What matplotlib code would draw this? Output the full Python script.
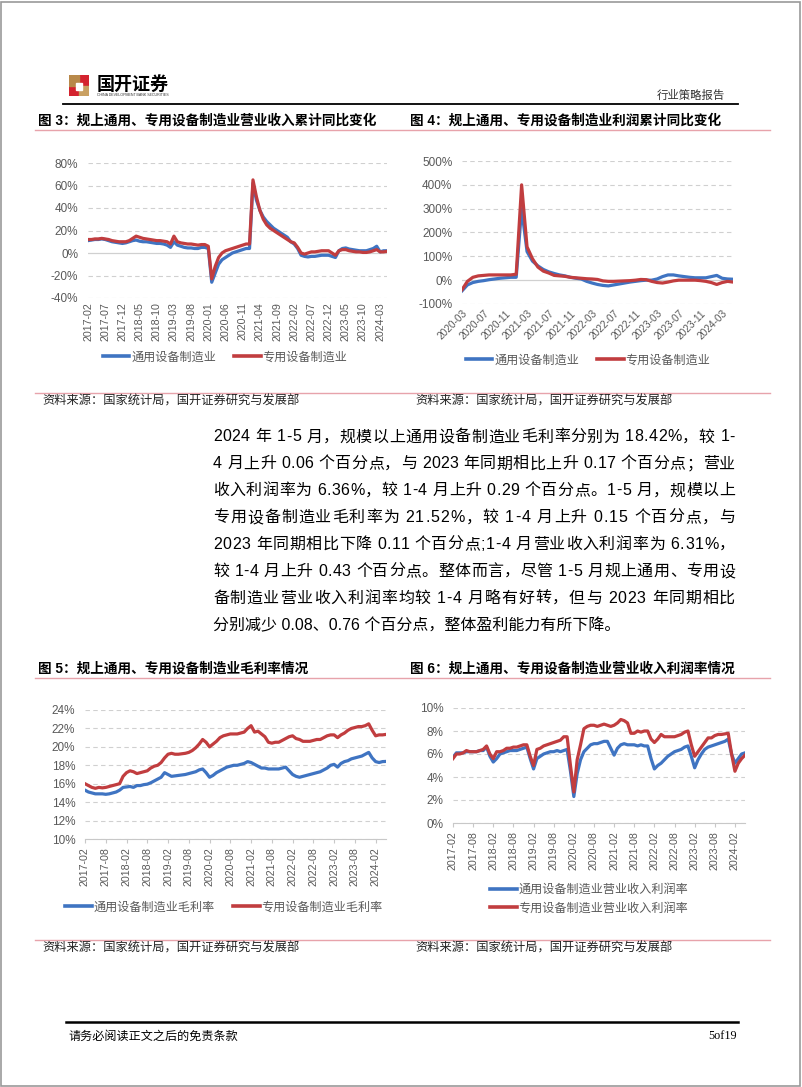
import numpy as np
import pandas as pd
import matplotlib
matplotlib.use("Agg")
import matplotlib.pyplot as plt
from matplotlib.lines import Line2D
from matplotlib.patches import Rectangle
from matplotlib.font_manager import FontProperties

########## DATA ##########
# fig 3: cumulative yoy of operating revenue (%), 2017-02 .. 2024-05
months_a = pd.period_range("2017-02", "2024-05", freq="M").strftime("%Y-%m").tolist()
rev_general = [11, 11.5, 12, 12, 12.5, 12, 11, 10, 9.5, 9, 8.5,
               9, 10, 11, 11.5, 10.5, 10, 10, 9.5, 9, 8.5, 8.5, 8,
               7, 5, 10, 7, 6, 5, 4.5, 4.5, 4, 4, 5, 5,
               4, -26, -18, -10, -6, -4, -2, 0, 1, 2, 3, 4,
               4, 62, 47, 38, 32, 28, 25, 22, 20, 18, 16, 14,
               10, 8, 4, -2, -3, -3.5, -3, -3, -2.5, -2, -2, -2,
               -3, -4, 2, 4, 4.5, 3.5, 3, 2.5, 2, 2, 2, 3,
               4, 6, 1, 2, 2]
rev_special = [12, 12, 12.5, 12.5, 13, 12.5, 12, 11, 10.5, 10, 10,
               10, 11, 13, 15, 14, 13, 12.5, 12, 11.5, 11, 11, 10.5,
               10, 8, 15, 10, 9, 8.5, 8, 8, 7.5, 7, 7.5, 7.5,
               6, -23, -12, -4, 0, 2, 3, 4, 5, 6, 7, 8,
               8, 65, 50, 38, 30, 25, 22, 20, 18, 16, 14, 12,
               10, 9, 5, 0, -1, 0, 1, 1, 1.5, 2, 2, 2,
               0, -2, 2, 3, 3, 2, 1.5, 1, 1, 0.5, 0.5, 1,
               2, 3, 1, 1, 1.5]

# fig 4: cumulative yoy of total profit (%), 2020-03 .. 2024-05
months_b = pd.period_range("2020-03", "2024-05", freq="M").strftime("%Y-%m").tolist()
prof_general = [-45, -20, -10, -5, -2, 2, 5, 8, 10, 12,
                12, 300, 120, 80, 60, 45, 35, 28, 22, 18, 12, 8,
                5, -5, -12, -18, -22, -24, -20, -16, -12, -8, -5, -2,
                0, 0, 5, 15, 22, 22, 18, 15, 12, 10, 10, 10,
                15, 20, 8, 5, 4]
prof_special = [-40, -5, 12, 18, 20, 22, 22, 22, 22, 22,
                25, 400, 140, 90, 55, 38, 30, 20, 18, 16, 12, 10,
                8, 6, 5, 3, -3, -5, -5, -4, -3, -2, 0, 3,
                2, -5, -10, -12, -8, -3, 0, 0, 0, 0, -2, -5,
                -10, -18, -10, -5, -8]

# fig 5: gross margin (%), 2017-02 .. 2024-05
gm_general = [15.3, 15.1, 15.0, 14.9, 14.9, 14.9, 14.85, 14.9, 15.0, 15.1, 15.3,
              15.6, 15.65, 15.7, 15.6, 15.8, 15.8, 15.9, 15.95, 16.1, 16.3, 16.5, 16.7,
              17.2, 17.0, 16.8, 16.85, 16.9, 16.95, 17.0, 17.1, 17.2, 17.3, 17.5, 17.6,
              17.2, 16.7, 16.9, 17.2, 17.4, 17.6, 17.8, 17.9, 18.0, 18.0, 18.1, 18.2,
              18.4, 18.3, 18.1, 17.9, 17.7, 17.7, 17.6, 17.6, 17.6, 17.6, 17.7, 17.8,
              17.4, 17.0, 16.8, 16.7, 16.8, 16.9, 17.0, 17.1, 17.2, 17.3, 17.5, 17.7,
              18.0, 18.1, 17.8, 18.2, 18.4, 18.5, 18.7, 18.8, 18.9, 19.0, 19.2, 19.4,
              18.8, 18.4, 18.3, 18.4, 18.42]
gm_special = [16.0, 15.8, 15.6, 15.5, 15.6, 15.55, 15.6, 15.7, 15.8, 15.9, 16.0,
              16.8, 17.2, 17.4, 17.3, 17.1, 17.2, 17.3, 17.4, 17.7, 17.9, 18.0, 18.3,
              18.8, 19.2, 19.3, 19.2, 19.2, 19.25, 19.3, 19.4, 19.6, 19.9, 20.3, 20.8,
              20.5, 20.0, 20.3, 20.6, 21.0, 21.2, 21.3, 21.4, 21.4, 21.4, 21.5, 21.6,
              22.0, 22.3, 21.6, 21.7, 21.4, 21.1, 20.5, 20.4, 20.5, 20.5, 20.7, 20.9,
              21.1, 21.2, 20.9, 20.8, 20.6, 20.6, 20.6, 20.7, 20.8, 20.8, 21.0, 21.2,
              21.3, 21.3, 21.0, 21.3, 21.5, 21.8, 22.0, 22.1, 22.2, 22.2, 22.3, 22.5,
              21.8, 21.2, 21.3, 21.3, 21.35]

# fig 6: operating profit margin (%), 2017-02 .. 2024-05
pm_general = [5.7, 6.1, 6.1, 6.1, 6.2, 6.2, 6.2, 6.2, 6.3, 6.3, 6.6,
              5.8, 5.3, 5.6, 6.0, 6.1, 6.2, 6.3, 6.3, 6.3, 6.4, 6.5, 6.6,
              5.6, 4.7, 5.6, 5.8, 6.0, 6.1, 6.2, 6.2, 6.3, 6.2, 6.3, 6.4,
              4.5, 2.3, 4.3, 5.5, 6.2, 6.5, 6.8, 6.9, 6.9, 7.0, 7.1, 7.1,
              6.5, 5.9, 6.5, 6.8, 6.9, 6.8, 6.8, 6.8, 6.7, 6.8, 6.7, 6.7,
              5.6, 4.7, 5.0, 5.2, 5.5, 5.8, 6.0, 6.2, 6.3, 6.4, 6.6, 6.7,
              5.8, 4.8, 5.5, 6.0, 6.4, 6.6, 6.7, 6.8, 6.9, 7.0, 7.1, 7.3,
              6.0, 5.2, 5.6, 6.0, 6.1]
pm_special = [5.6, 6.0, 6.0, 6.1, 6.3, 6.2, 6.2, 6.2, 6.3, 6.4, 6.7,
              6.0, 5.6, 6.2, 6.2, 6.3, 6.5, 6.5, 6.6, 6.6, 6.7, 6.8, 6.8,
              5.8, 5.0, 6.4, 6.5, 6.7, 6.8, 6.9, 7.0, 7.1, 7.2, 7.5, 7.5,
              5.0, 2.7, 5.5, 6.8, 8.2, 8.4, 8.5, 8.5, 8.4, 8.5, 8.6, 8.5,
              8.4, 8.5, 8.7, 9.0, 8.9, 8.7, 7.8, 7.8, 8.0, 7.9, 8.0, 8.0,
              7.3, 7.0, 7.3, 7.7, 7.5, 7.5, 7.5, 7.5, 7.6, 7.7, 7.9, 8.0,
              6.8, 5.8, 6.2, 6.6, 7.0, 7.4, 7.4, 7.6, 7.7, 7.7, 7.75, 7.8,
              6.0, 4.5, 5.2, 5.6, 5.9]

body_lines = [
    "2024 年 1-5 月，规模以上通用设备制造业毛利率分别为 18.42%，较 1-",
    "4 月上升 0.06 个百分点，与 2023 年同期相比上升 0.17 个百分点；营业",
    "收入利润率为 6.36%，较 1-4 月上升 0.29 个百分点。1-5 月，规模以上",
    "专用设备制造业毛利率为 21.52%，较 1-4 月上升 0.15 个百分点，与",
    "2023 年同期相比下降 0.11 个百分点;1-4 月营业收入利润率为 6.31%，",
    "较 1-4 月上升 0.43 个百分点。整体而言，尽管 1-5 月规上通用、专用设",
    "备制造业营业收入利润率均较 1-4 月略有好转，但与 2023 年同期相比",
    "分别减少 0.08、0.76 个百分点，整体盈利能力有所下降。",
]
source = "资料来源：国家统计局，国开证券研究与发展部"
########################################

W, H = 802, 1087
CJK = ["Liberation Sans", "Noto Sans CJK SC"]
plt.rcParams["font.family"] = CJK
BLUE, RED = "#3f74c2", "#c13d3f"
GRAY = "#595959"
PINK = "#e7a3ab"

fig = plt.figure(figsize=(W / 100, H / 100), dpi=100)


def px_axes(x0, y0, x1, y1):
    return fig.add_axes([x0 / W, 1 - y1 / H, (x1 - x0) / W, (y1 - y0) / H])


def ftext(x, y, s, **kw):
    return fig.text(x / W, 1 - y / H, s, **kw)


def hline(x0, x1, y, color, lw):
    fig.add_artist(Line2D([x0 / W, x1 / W], [1 - y / H] * 2, color=color, lw=lw))


def draw_chart(ax, cats, blue, red, ylim, yticks, step, rot, zero_line, ylabfs=8.5):
    x = np.arange(len(cats))
    for v in yticks:
        if zero_line and v == 0:
            continue
        ax.axhline(v, color="#d0d0d0", lw=0.8, ls=(0, (4, 3)), zorder=0)
    if zero_line:
        ax.axhline(0, color="#d0d0d0", lw=0.9, zorder=0)
    ax.plot(x, blue, color=BLUE, lw=2.3, solid_joinstyle="round")
    ax.plot(x, red, color=RED, lw=2.3, solid_joinstyle="round")
    ax.set_xlim(0, len(cats) - 1)
    ax.set_ylim(*ylim)
    ax.set_yticks(yticks)
    ax.set_yticklabels([f"{v}%" for v in yticks], fontsize=ylabfs, color=GRAY)
    ax.set_xticks(x[::step])
    if rot == 45:
        ax.set_xticklabels(np.array(cats)[::step], rotation=45, ha="right",
                           rotation_mode="anchor", fontsize=7.3, color=GRAY)
    else:
        ax.set_xticklabels(np.array(cats)[::step], rotation=90, fontsize=7.7, color=GRAY)
    for s in ax.spines.values():
        s.set_visible(False)
    ax.tick_params(axis="y", length=0, pad=7)
    if zero_line:
        ax.tick_params(axis="x", length=0, pad=3)
    else:
        ax.spines["bottom"].set_visible(True)
        ax.spines["bottom"].set_color("#c8c8c8")
        ax.tick_params(axis="x", length=3, color="#c8c8c8", pad=3)
    ax.patch.set_alpha(0)


# ---- header
ax_logo = px_axes(69, 75, 89, 96)
ax_logo.set_xlim(0, 1); ax_logo.set_ylim(0, 1); ax_logo.axis("off")
ax_logo.add_patch(Rectangle((0, 0), 1, 1, color="#d4232f"))
ax_logo.add_patch(Rectangle((0, 0.5), 0.5, 0.5, color="#b8894a"))
ax_logo.add_patch(Rectangle((0.5, 0), 0.5, 0.5, color="#c9a062"))
ax_logo.add_patch(Rectangle((0.33, 0.3), 0.34, 0.34, color="white"))
ftext(97, 84, "国开证券", fontsize=13, fontweight="bold", family="Noto Sans CJK SC", va="center")
ftext(97, 95, "CHINA DEVELOPMENT BANK SECURITIES", fontsize=2.6, va="center", color="#333333")
ftext(725, 95, "行业策略报告", fontsize=8.2, ha="right", va="center", color="#333333")
hline(63, 738, 104, "black", 1.3)

# ---- titles
tkw = dict(fontsize=9.8, fontweight="bold", va="center")
ftext(38, 121, "图 3：规上通用、专用设备制造业营业收入累计同比变化", **tkw)
ftext(410, 121, "图 4：规上通用、专用设备制造业利润累计同比变化", **tkw)
hline(35, 770, 130, PINK, 1)
ftext(38, 669, "图 5：规上通用、专用设备制造业毛利率情况", **tkw)
ftext(410, 669, "图 6：规上通用、专用设备制造业营业收入利润率情况", **tkw)
hline(35, 770, 678, PINK, 1)

# ---- chart 3
ax3 = px_axes(88, 163, 387, 298)
draw_chart(ax3, months_a, rev_general, rev_special, (-40, 80), [-40, -20, 0, 20, 40, 60, 80], 5, 90, True)
# ---- chart 4
ax4 = px_axes(462, 161, 733, 304)
draw_chart(ax4, months_b, prof_general, prof_special, (-100, 500), [-100, 0, 100, 200, 300, 400, 500], 4, 45, True)
# ---- chart 5
ax5 = px_axes(85, 710, 386, 839)
draw_chart(ax5, months_a, gm_general, gm_special, (10, 24), [10, 12, 14, 16, 18, 20, 22, 24], 6, 90, False)
# ---- chart 6
ax6 = px_axes(453, 708, 745, 823)
draw_chart(ax6, months_a, pm_general, pm_special, (0, 10), [0, 2, 4, 6, 8, 10], 6, 90, False)

# ---- legends
def legend_at(cx, cy, labels, ncol):
    handles = [Line2D([], [], color=BLUE, lw=2.6), Line2D([], [], color=RED, lw=2.6)]
    fig.legend(handles, labels, loc="center", bbox_to_anchor=(cx / W, 1 - cy / H), ncol=ncol,
               frameon=False, handlelength=2.2, handletextpad=0.15, columnspacing=1.5,
               labelspacing=0.45, prop=FontProperties(family="Noto Sans CJK SC", size=8.7),
               labelcolor=GRAY, borderaxespad=0, borderpad=0)


legend_at(225, 357, ["通用设备制造业", "专用设备制造业"], 2)
legend_at(588, 360, ["通用设备制造业", "专用设备制造业"], 2)
legend_at(224, 907, ["通用设备制造业毛利率", "专用设备制造业毛利率"], 2)
legend_at(589, 899, ["通用设备制造业营业收入利润率", "专用设备制造业营业收入利润率"], 1)

# ---- sources
for yy, ly in [(401, 393), (948, 940)]:
    hline(35, 770, ly, PINK, 1)
    ftext(42, yy, source, fontsize=8.8, va="center", family="Noto Sans CJK SC", color="#222222")
    ftext(415, yy, source, fontsize=8.8, va="center", family="Noto Sans CJK SC", color="#222222")

# ---- body text, justified between x=213 and x=735
prop = FontProperties(family=CJK, size=11.5)
renderer = fig.canvas.get_renderer()


def tw(s):
    return renderer.get_text_width_height_descent(s, prop, ismath=False)[0]


bar_w = tw("|")
x_left, x_right = 213, 735
for i, line in enumerate(body_lines):
    y = 437 + i * 26.9
    if i == len(body_lines) - 1:
        ftext(x_left, y, line, fontproperties=prop, va="center")
        continue
    pos = [tw(line[:k] + "|") - bar_w for k in range(len(line) + 1)]
    gap = (x_right - x_left - pos[-1]) / (len(line) - 1)
    for k, ch in enumerate(line):
        if ch != " ":
            ftext(x_left + pos[k] + k * gap, y, ch, fontproperties=prop, va="center")

# ---- footer
hline(66, 738, 1022, "black", 1.8)
ftext(68, 1036, "请务必阅读正文之后的免责条款", fontsize=8.7, va="center", family="Noto Sans CJK SC")
ftext(737, 1036, "5of19", fontsize=8.7, va="center", ha="right", family="Liberation Serif")

# page frame
fig.add_artist(Rectangle((1 / W, 1 / H), 799 / W, 1084 / H, fill=False, edgecolor="#999999", lw=1.2))

fig.savefig("out.png", dpi=100)
